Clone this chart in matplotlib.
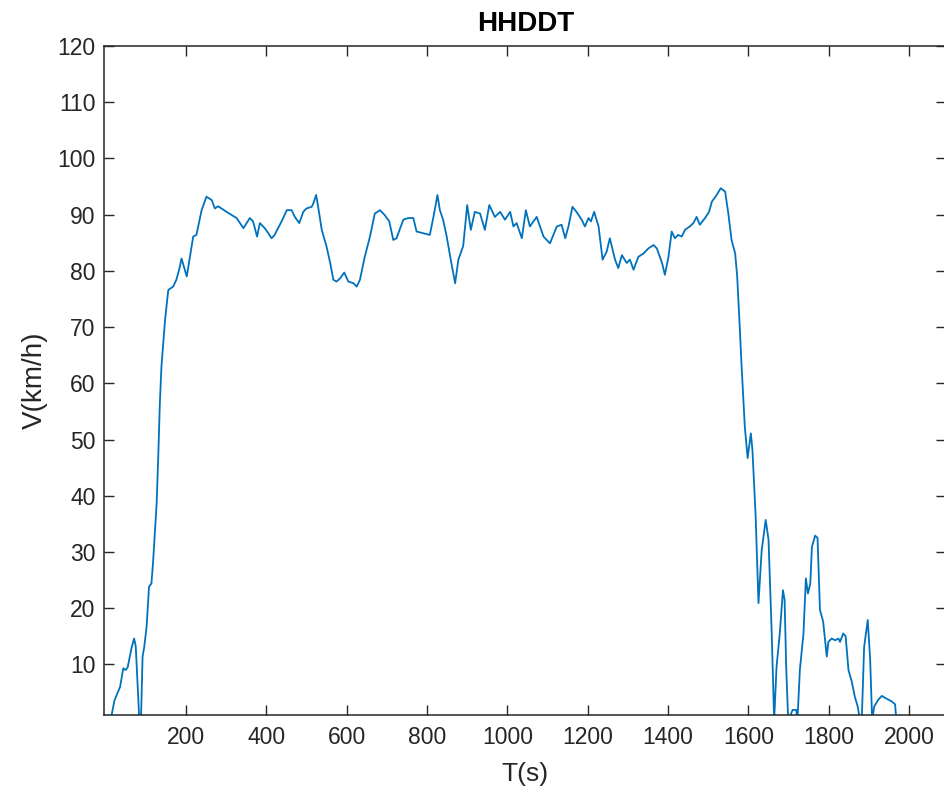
import matplotlib

matplotlib.use("Agg")
import matplotlib.pyplot as plt

# HHDDT cruise cycle, speed trace
T_S = [15, 19, 22, 36, 44, 50, 55, 65, 71, 75, 80, 84, 88, 92, 96, 102, 108, 114, 118, 127,
       131, 135, 139, 148, 156, 168, 176, 183, 189, 202, 218, 226, 239, 251, 264, 272, 280, 301,
       326, 343, 359, 367, 377, 384, 396, 405, 413, 421, 425, 438, 451, 463, 471, 482, 492, 500,
       513, 517, 524, 529, 538, 550, 559, 567, 575, 584, 594, 604, 617, 625, 633, 645, 658, 670,
       683, 695, 706, 716, 724, 741, 753, 766, 774, 791, 807, 816, 826, 832, 840, 849, 859, 870,
       878, 890, 900, 909, 919, 932, 944, 955, 969, 982, 994, 1007, 1015, 1023, 1036, 1046, 1056,
       1073, 1090, 1106, 1123, 1135, 1144, 1152, 1162, 1172, 1185, 1193, 1202, 1208, 1216, 1227,
       1237, 1247, 1255, 1268, 1276, 1285, 1297, 1305, 1314, 1326, 1339, 1351, 1364, 1372, 1385,
       1392, 1401, 1409, 1417, 1425, 1434, 1442, 1454, 1463, 1471, 1479, 1492, 1502, 1509, 1521,
       1531, 1542, 1550, 1558, 1567, 1572, 1577, 1583, 1591, 1598, 1606, 1610, 1618, 1625, 1633,
       1643, 1650, 1658, 1664, 1670, 1678, 1686, 1690, 1694, 1699, 1710, 1719, 1722, 1728, 1737,
       1743, 1748, 1754, 1758, 1766, 1772, 1778, 1786, 1795, 1799, 1807, 1816, 1824, 1828, 1836,
       1842, 1849, 1857, 1865, 1872, 1878, 1882, 1888, 1897, 1903, 1908, 1913, 1923, 1932, 1944,
       1957, 1965, 1967]
V_KMH = [1.0, 2.5, 3.6, 6, 9.3, 9, 9.5, 13.1, 14.6, 13.2, 6, 0, 0, 11.4, 13, 16.7, 23.8, 24.4, 28,
         38.6, 46.9, 56.4, 63, 71.3, 76.6, 77.2, 78.4, 80.2, 82.2, 79, 86.1, 86.4, 90.8, 93.2, 92.6,
         91.1, 91.5, 90.5, 89.4, 87.6, 89.4, 88.8, 86.1, 88.5, 87.6, 86.7, 85.8, 86.4, 87, 88.8,
         90.8, 90.8, 89.6, 88.5, 90.5, 91.1, 91.4, 92, 93.5, 91.4, 87.3, 84.3, 81.4, 78.4, 78.1,
         78.7, 79.7, 78.1, 77.8, 77.2, 78.4, 82.5, 86.1, 90.2, 90.8, 89.9, 88.8, 85.5, 85.8, 89.1,
         89.4, 89.4, 87, 86.7, 86.4, 89.6, 93.5, 90.8, 89.1, 86.1, 82, 77.8, 82, 84.4, 91.7, 87.3,
         90.5, 90.2, 87.3, 91.7, 89.6, 90.5, 89.1, 90.5, 87.9, 88.5, 85.8, 90.8, 87.9, 89.6, 86.1,
         84.9, 87.9, 88.2, 85.8, 87.9, 91.4, 90.5, 89.1, 87.9, 89.4, 88.8, 90.5, 87.9, 82, 83.4,
         85.8, 82, 80.5, 82.8, 81.4, 82, 80.2, 82.5, 83.1, 84, 84.6, 84, 81.4, 79.3, 82.5, 87,
         85.8, 86.4, 86.1, 87.3, 87.9, 88.5, 89.6, 88.2, 89.4, 90.5, 92.3, 93.5, 94.7, 94.1, 90.2,
         85.5, 83.1, 79, 72, 63, 52.3, 46.7, 51.1, 48.1, 36.3, 20.9, 30.3, 35.7, 32.2, 15.5, 0,
         9.6, 15.5, 23.2, 21.5, 9.6, 0, 1.9, 1.9, 0, 9, 15.5, 25.3, 22.6, 24.4, 30.9, 32.9, 32.5,
         19.7, 17.6, 11.4, 14, 14.6, 14.3, 14.6, 14, 15.5, 15, 9, 7, 4.2, 2.5, 0, 0, 13.1, 17.9,
         10.8, 0, 2.5, 3.7, 4.4, 3.9, 3.4, 2.9, 1.2]
X_TICKS = list(range(200, 2001, 200))
Y_TICKS = list(range(10, 121, 10))

INK = "#262626"
plt.rcParams.update({"font.family": ["Liberation Sans", "DejaVu Sans"], "font.size": 16.5})

fig = plt.figure(figsize=(9.45, 7.97), dpi=100)
ax = fig.add_axes([104 / 945, 1 - 715 / 797, 842.5 / 945, 669 / 797])
ax.plot(T_S, V_KMH, color="#0072BD", lw=1.3)
ax.set_xlim(-4, 2093)
ax.set_ylim(1, 120)
ax.set_xticks(X_TICKS)
ax.set_yticks(Y_TICKS)
ax.tick_params(direction="in", length=7, width=1, colors=INK, top=True, right=True,
               labelsize=16.5)
ax.tick_params(axis="x", pad=8)
ax.tick_params(axis="y", pad=6)
for sp in ax.spines.values():
    sp.set_color(INK)
    sp.set_linewidth(1.1)
# the reference crops the box right at its right edge
ax.spines["right"].set_visible(False)
ax.set_title("HHDDT", fontsize=20, fontweight="bold", color="black", pad=11)
ax.set_xlabel("T(s)", fontsize=19, color=INK, labelpad=9)
ax.set_ylabel("V(km/h)", fontsize=20, color=INK, labelpad=7)
fig.savefig("out.png", dpi=100)
